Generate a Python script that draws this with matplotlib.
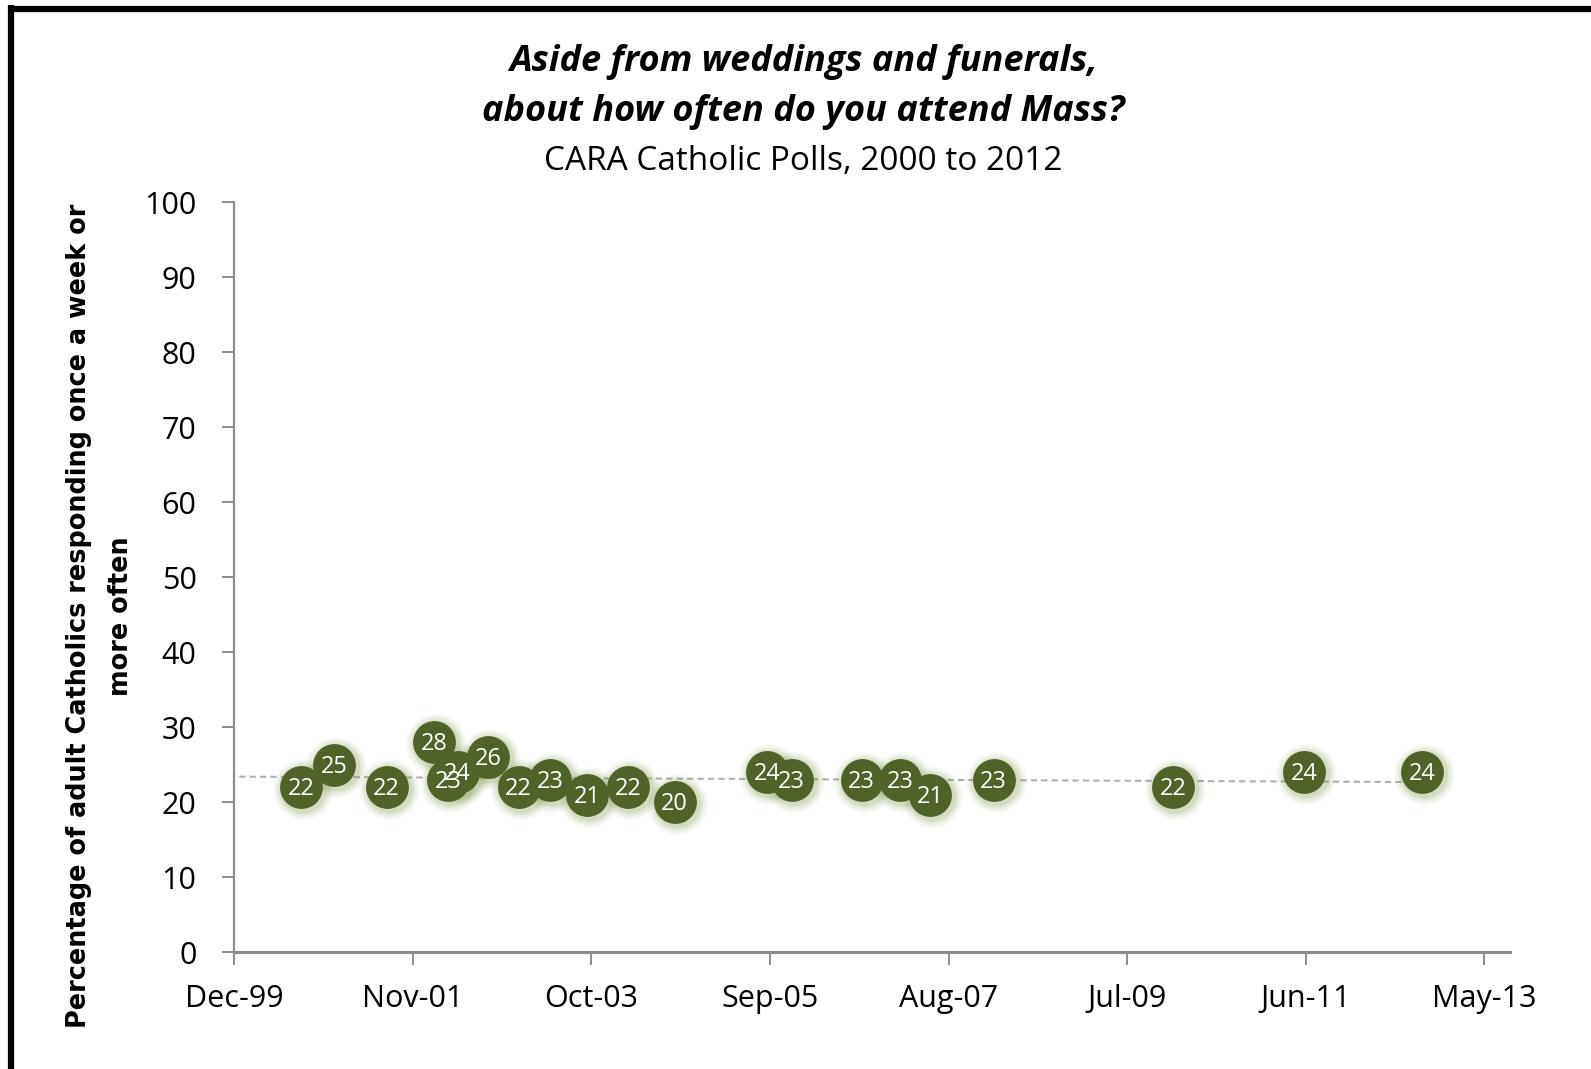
import matplotlib
matplotlib.use("Agg")
import matplotlib.pyplot as plt
import matplotlib.dates as mdates
import matplotlib.transforms as mtransforms
from matplotlib.lines import Line2D
import numpy as np

# poll dates and % attending weekly or more
poll_dates = ['2000-08-25', '2000-12-31', '2001-07-26', '2002-01-29', '2002-03-25',
              '2002-04-30', '2002-08-27', '2002-12-25', '2003-04-27', '2003-09-21',
              '2004-02-27', '2004-08-28', '2005-08-25', '2005-11-29', '2006-08-30',
              '2007-01-28', '2007-05-27', '2008-01-29', '2010-01-02', '2011-05-29',
              '2012-09-05']
weekly_pct = [22, 25, 22, 28, 23, 24, 26, 22, 23, 21, 22, 20, 24, 23, 23, 23, 21, 23, 22, 24, 24]

tick_start = '1999-12-06'   # excel date axis, 700 day steps
tick_step_days = 700
n_ticks = 8

title1 = 'Aside from weddings and funerals,'
title2 = 'about how often do you attend Mass?'
subtitle = 'CARA Catholic Polls, 2000 to 2012'
ylabel = 'Percentage of adult Catholics responding once a week or\nmore often'

green = '#4F6228'
axis_gray = '#8C8C8C'

dates = np.array(poll_dates, dtype='datetime64[D]')
xnum = mdates.date2num(dates)
ticks = np.datetime64(tick_start) + np.arange(n_ticks) * tick_step_days
tnum = mdates.date2num(ticks)

fig = plt.figure(figsize=(15.91, 10.69), dpi=100)
ax = fig.add_axes([0.1471, 0.1094, 0.8020, 0.7016])

# linear trendline
coef = np.polyfit(xnum, weekly_pct, 1)
trend_x = np.array([tnum[0] + 20, xnum[-1] + 60])
ax.plot(trend_x, np.polyval(coef, trend_x), ls=(0, (3, 2)), color='#B0B0B0', lw=1.5, zorder=1)

# soft glow around the markers
for grow, a in [(2.0, 0.06), (1.7, 0.08), (1.45, 0.10), (1.22, 0.13)]:
    off = mtransforms.offset_copy(ax.transData, fig=fig, x=2, y=-2, units='dots')
    ax.scatter(xnum, weekly_pct, s=950 * grow, color='#7A9444', alpha=a,
               linewidths=0, transform=off, zorder=2)

ax.scatter(xnum, weekly_pct, s=950, color=green, linewidths=0, zorder=3)

for x, v in zip(xnum, weekly_pct):
    ax.text(x, v - 0.3, str(v), color='white', ha='center', va='center',
            fontsize=17, family='Open Sans', zorder=4)

ax.set_xlim(tnum[0], tnum[0] + 5000)
ax.set_ylim(0, 100)
ax.set_xticks(tnum)
ax.xaxis.set_major_formatter(mdates.DateFormatter('%b-%y'))
ax.set_yticks(np.arange(0, 101, 10))

for side in ['top', 'right']:
    ax.spines[side].set_visible(False)
for side in ['left', 'bottom']:
    ax.spines[side].set_color(axis_gray)
    ax.spines[side].set_linewidth(1.6)
ax.spines['bottom'].set_linewidth(2.2)

ax.tick_params(axis='both', direction='out', length=9, width=1.4, color=axis_gray,
               labelsize=22, labelcolor='black')
ax.tick_params(axis='x', pad=14)
ax.tick_params(axis='y', pad=18)
for lab in ax.get_xticklabels() + ax.get_yticklabels():
    lab.set_family('Open Sans')

fig.text(0.505, 1 - 62 / 1069, title1, ha='center', va='center', fontsize=26,
         family='Open Sans', weight='bold', style='italic')
fig.text(0.505, 1 - 112 / 1069, title2, ha='center', va='center', fontsize=26,
         family='Open Sans', weight='bold', style='italic')
fig.text(0.505, 1 - 161 / 1069, subtitle, ha='center', va='center', fontsize=24,
         family='Open Sans')

fig.text(100 / 1591, 1 - 616 / 1069, ylabel, rotation=90, ha='center', va='center',
         fontsize=18.4, family='DejaVu Sans', weight='bold', linespacing=1.8,
         multialignment='center')

# black frame on top and left edges of the screenshot
fig.add_artist(Line2D([8 / 1591, 1], [1 - 8.5 / 1069, 1 - 8.5 / 1069], color='black',
                      lw=4.5, transform=fig.transFigure, solid_capstyle='butt'))
fig.add_artist(Line2D([11 / 1591, 11 / 1591], [1 - 5 / 1069, 0], color='black',
                      lw=4.5, transform=fig.transFigure, solid_capstyle='butt'))

fig.savefig('out.png', dpi=100)
